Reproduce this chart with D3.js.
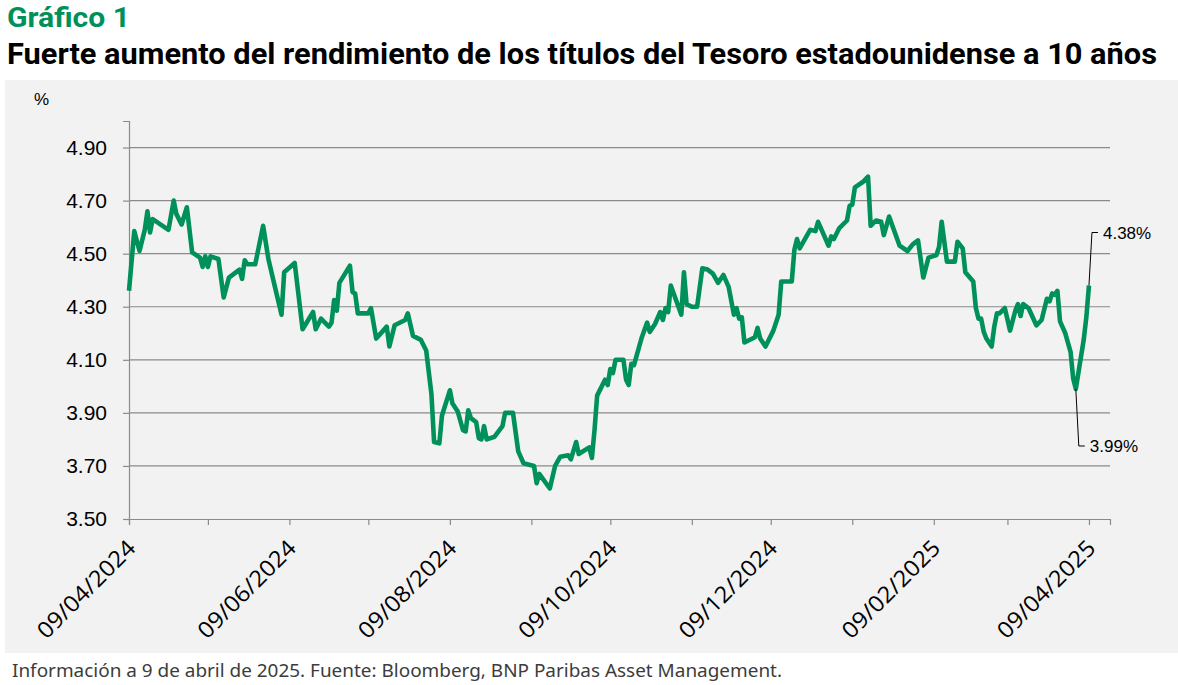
<!DOCTYPE html>
<html>
<head>
<meta charset="utf-8">
<script src="https://cdn.jsdelivr.net/npm/d3@7"></script>
<style>
  body { margin: 0; background: #fff; }
  svg { display: block; }
</style>
</head>
<body>
<script>
// 10y US Treasury yield
var dates = [
  "2024-04-09","2024-04-11","2024-04-13","2024-04-15","2024-04-16","2024-04-17","2024-04-18","2024-04-24","2024-04-26","2024-04-27",
  "2024-04-29","2024-05-01","2024-05-03","2024-05-06","2024-05-07","2024-05-08","2024-05-09","2024-05-10","2024-05-13","2024-05-15",
  "2024-05-17","2024-05-21","2024-05-22","2024-05-23","2024-05-24","2024-05-27","2024-05-30","2024-06-01","2024-06-03","2024-06-06",
  "2024-06-07","2024-06-11","2024-06-14","2024-06-18","2024-06-19","2024-06-21","2024-06-24","2024-06-25","2024-06-26","2024-06-27",
  "2024-06-28","2024-07-02","2024-07-03","2024-07-04","2024-07-05","2024-07-09","2024-07-10","2024-07-12","2024-07-16","2024-07-17",
  "2024-07-19","2024-07-23","2024-07-24","2024-07-26","2024-07-29","2024-07-31","2024-08-02","2024-08-03","2024-08-05","2024-08-06",
  "2024-08-09","2024-08-10","2024-08-12","2024-08-14","2024-08-15","2024-08-16","2024-08-17","2024-08-19","2024-08-20","2024-08-21",
  "2024-08-22","2024-08-23","2024-08-26","2024-08-29","2024-08-30","2024-09-02","2024-09-04","2024-09-06","2024-09-10","2024-09-11",
  "2024-09-12","2024-09-16","2024-09-18","2024-09-20","2024-09-23","2024-09-24","2024-09-26","2024-09-27","2024-10-01","2024-10-02",
  "2024-10-03","2024-10-04","2024-10-07","2024-10-08","2024-10-09","2024-10-10","2024-10-11","2024-10-14","2024-10-15","2024-10-16",
  "2024-10-17","2024-10-18","2024-10-21","2024-10-23","2024-10-24","2024-10-26","2024-10-28","2024-10-29","2024-10-30","2024-10-31",
  "2024-11-01","2024-11-05","2024-11-06","2024-11-07","2024-11-09","2024-11-11","2024-11-13","2024-11-15","2024-11-17","2024-11-19",
  "2024-11-21","2024-11-23","2024-11-25","2024-11-26","2024-11-27","2024-11-28","2024-11-29","2024-12-03","2024-12-04","2024-12-05",
  "2024-12-07","2024-12-10","2024-12-12","2024-12-13","2024-12-17","2024-12-18","2024-12-19","2024-12-20","2024-12-24","2024-12-26",
  "2024-12-27","2024-12-31","2025-01-01","2025-01-02","2025-01-04","2025-01-07","2025-01-08","2025-01-09","2025-01-10","2025-01-13",
  "2025-01-15","2025-01-16","2025-01-18","2025-01-20","2025-01-21","2025-01-23","2025-01-27","2025-01-30","2025-02-01","2025-02-03",
  "2025-02-05","2025-02-07","2025-02-10","2025-02-11","2025-02-12","2025-02-14","2025-02-17","2025-02-18","2025-02-20","2025-02-21",
  "2025-02-24","2025-02-25","2025-02-26","2025-02-27","2025-02-28","2025-03-01","2025-03-03","2025-03-04","2025-03-05","2025-03-06",
  "2025-03-08","2025-03-10","2025-03-12","2025-03-13","2025-03-14","2025-03-15","2025-03-17","2025-03-20","2025-03-22","2025-03-24",
  "2025-03-25","2025-03-26","2025-03-27","2025-03-28","2025-03-29","2025-03-31","2025-04-02","2025-04-03","2025-04-04","2025-04-07",
  "2025-04-08","2025-04-09"
];
var yields = [
  4.36,4.585,4.51,4.59,4.66,4.58,4.63,4.59,4.70,4.65,
  4.61,4.675,4.505,4.485,4.45,4.49,4.45,4.49,4.48,4.335,
  4.41,4.44,4.405,4.475,4.46,4.46,4.605,4.48,4.395,4.27,
  4.43,4.465,4.215,4.28,4.215,4.255,4.225,4.24,4.325,4.285,
  4.39,4.455,4.355,4.35,4.275,4.275,4.295,4.18,4.225,4.15,
  4.23,4.25,4.275,4.19,4.175,4.135,3.97,3.79,3.785,3.89,
  3.985,3.935,3.905,3.835,3.83,3.91,3.88,3.865,3.805,3.80,
  3.85,3.80,3.81,3.85,3.90,3.90,3.755,3.71,3.70,3.635,
  3.67,3.615,3.70,3.735,3.74,3.725,3.79,3.745,3.77,3.73,
  3.835,3.965,4.025,4.005,4.065,4.05,4.10,4.10,4.025,4.005,
  4.085,4.08,4.185,4.24,4.205,4.235,4.28,4.25,4.295,4.28,
  4.38,4.27,4.43,4.31,4.30,4.30,4.445,4.44,4.425,4.39,
  4.42,4.375,4.27,4.295,4.255,4.26,4.165,4.185,4.22,4.18,
  4.15,4.21,4.27,4.395,4.395,4.515,4.555,4.52,4.59,4.585,
  4.62,4.53,4.565,4.555,4.595,4.625,4.68,4.685,4.75,4.77,
  4.79,4.605,4.625,4.62,4.57,4.64,4.53,4.51,4.535,4.55,
  4.41,4.485,4.495,4.525,4.62,4.47,4.47,4.545,4.52,4.43,
  4.395,4.295,4.255,4.255,4.205,4.18,4.15,4.225,4.275,4.275,
  4.295,4.21,4.285,4.31,4.265,4.31,4.295,4.23,4.25,4.33,
  4.32,4.35,4.345,4.36,4.245,4.20,4.13,4.03,3.99,4.175,
  4.26,4.38
];
var yTicks = [3.5, 3.7, 3.9, 4.1, 4.3, 4.5, 4.7, 4.9];
var annotations = [
  { date: "2025-04-09", label: "4.38%" },
  { date: "2025-04-04", label: "3.99%" }
];

var W = 1178, H = 685;
var green = "#00915a";
var parseDate = d3.timeParse("%Y-%m-%d");
var data = dates.map(function(d, i) { return { date: parseDate(d), value: yields[i] }; });

var svg = d3.select("body").append("svg")
  .attr("width", W)
  .attr("height", H);

// titles
svg.append("text")
  .attr("x", 7).attr("y", 27)
  .attr("fill", green)
  .style("font-family", "Roboto, sans-serif")
  .style("font-weight", 700)
  .style("font-size", "28px")
  .attr("textLength", 123)
  .attr("lengthAdjust", "spacingAndGlyphs")
  .text("Gráfico 1");

svg.append("text")
  .attr("x", 7).attr("y", 64)
  .attr("fill", "#000")
  .style("font-family", "Roboto, sans-serif")
  .style("font-weight", 700)
  .style("font-size", "30px")
  .attr("textLength", 1150)
  .attr("lengthAdjust", "spacingAndGlyphs")
  .text("Fuerte aumento del rendimiento de los títulos del Tesoro estadounidense a 10 años");

// grey panel
svg.append("rect")
  .attr("x", 5).attr("y", 80)
  .attr("width", W - 5).attr("height", 573)
  .attr("fill", "#f2f2f2");

svg.append("text")
  .attr("x", 34).attr("y", 105)
  .style("font-family", "'Liberation Sans', Arial, sans-serif")
  .style("font-size", "17px")
  .text("%");

var x = d3.scaleTime()
  .domain([parseDate("2024-04-09"), parseDate("2025-04-17")])
  .range([129, 1110]);

var y = d3.scaleLinear()
  .domain([3.5, 5.0])
  .range([519, 121]);

// horizontal grid
svg.append("g")
  .selectAll("line")
  .data(yTicks.slice(1))
  .enter().append("line")
  .attr("x1", x.range()[0]).attr("x2", x.range()[1])
  .attr("y1", function(d) { return y(d); })
  .attr("y2", function(d) { return y(d); })
  .attr("stroke", "#8a8a8a")
  .attr("stroke-width", 1.2);

// y axis
var yAxis = svg.append("g")
  .attr("transform", "translate(" + x.range()[0] + ",0)")
  .call(d3.axisLeft(y).tickValues(yTicks).tickFormat(d3.format(".2f")).tickSize(6).tickPadding(16));
yAxis.select(".domain").attr("stroke", "#8a8a8a").attr("stroke-width", 1.2);
yAxis.selectAll(".tick line").attr("stroke", "#8a8a8a").attr("stroke-width", 1.2);
yAxis.selectAll("text")
  .style("font-family", "'Liberation Sans', Arial, sans-serif")
  .style("font-size", "21px")
  .attr("fill", "#000");

// x axis: monthly ticks, a label every two months
var xTicks = d3.range(0, 13).map(function(m) { return d3.timeMonth.offset(parseDate("2024-04-09"), m); });
var fmt = d3.timeFormat("%d/%m/%Y");
var xAxis = svg.append("g")
  .attr("transform", "translate(0," + y(3.5) + ")")
  .call(d3.axisBottom(x).tickValues(xTicks).tickSize(6)
    .tickFormat(function(d, i) { return i % 2 === 0 ? fmt(d) : ""; }));
xAxis.select(".domain").attr("stroke", "#8a8a8a").attr("stroke-width", 1.2);
xAxis.selectAll(".tick line").attr("stroke", "#8a8a8a").attr("stroke-width", 1.2);
xAxis.selectAll("text")
  .filter(function() { return this.textContent !== ""; })
  .style("font-family", "'Open Sans', sans-serif")
  .style("font-size", "22.5px")
  .attr("fill", "#000")
  .attr("text-anchor", "end")
  .attr("dy", "0.35em")
  .attr("textLength", 128)
  .attr("lengthAdjust", "spacingAndGlyphs")
  .attr("transform", "translate(2,25) rotate(-45)")
  .attr("x", 0).attr("y", 0);

// the line
var line = d3.line()
  .x(function(d) { return x(d.date); })
  .y(function(d) { return y(d.value); });

svg.append("path")
  .datum(data)
  .attr("d", line)
  .attr("fill", "none")
  .attr("stroke", green)
  .attr("stroke-width", 4.6)
  .attr("stroke-linejoin", "round");

// end-point callouts
annotations.forEach(function(a, i) {
  var p = data.filter(function(d) { return +d.date === +parseDate(a.date); })[0];
  var px = x(p.date), py = y(p.value);
  var ty = i === 0 ? py - 53 : py + 57;
  var g = svg.append("g");
  g.append("path")
    .attr("d", "M" + px + "," + py + "L" + (px + 3) + "," + ty + "h6")
    .attr("fill", "none")
    .attr("stroke", "#000")
    .attr("stroke-width", 1);
  g.append("text")
    .attr("x", px + 14).attr("y", ty + 6)
    .style("font-family", "'Liberation Sans', Arial, sans-serif")
    .style("font-size", "17px")
    .text(a.label);
});

// source
svg.append("text")
  .attr("x", 12).attr("y", 677)
  .attr("fill", "#3c3c3c")
  .style("font-family", "'Noto Sans', sans-serif")
  .style("font-size", "18px")
  .attr("textLength", 770)
  .attr("lengthAdjust", "spacingAndGlyphs")
  .text("Información a 9 de abril de 2025. Fuente: Bloomberg, BNP Paribas Asset Management.");
</script>
</body>
</html>
